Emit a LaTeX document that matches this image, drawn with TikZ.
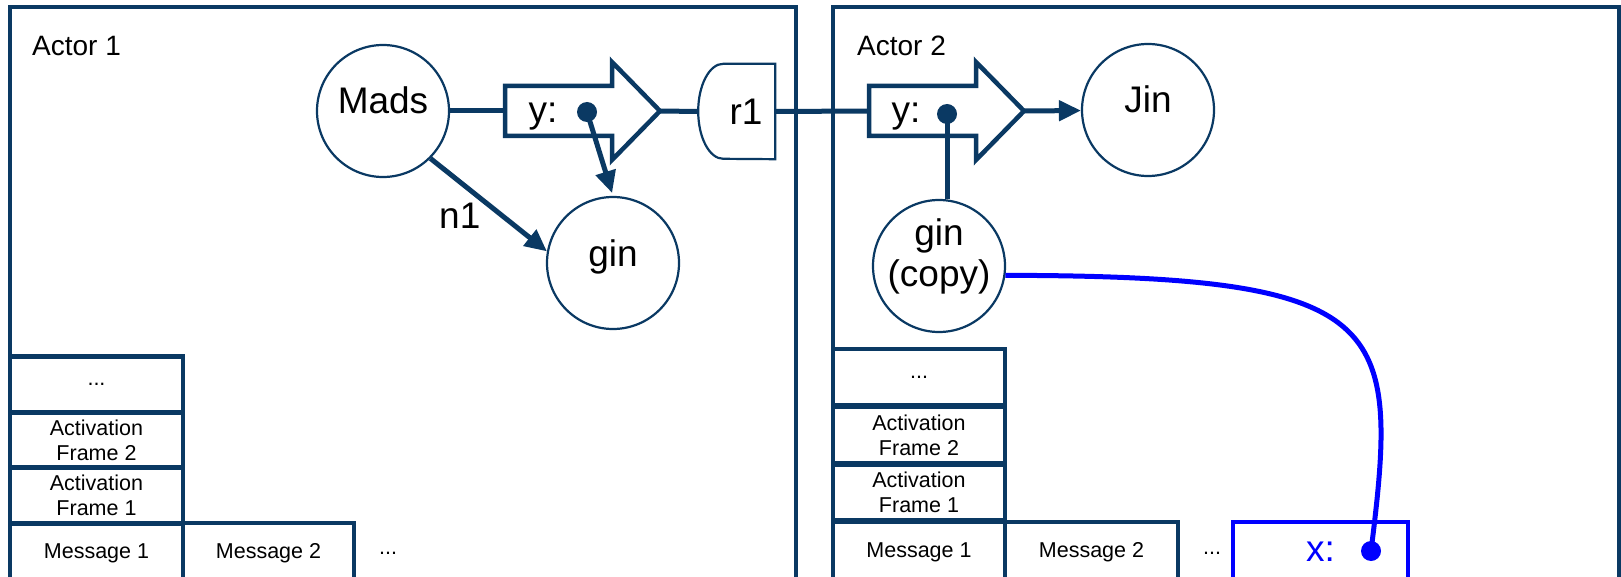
\documentclass[tikz,border=0pt]{standalone}
\usepackage{fontspec}
\setmainfont{Liberation Sans}
\usetikzlibrary{arrows.meta}
\definecolor{actorc}{RGB}{10,57,99}
\definecolor{copyc}{RGB}{0,0,255}

\begin{document}
\begin{tikzpicture}[x=1pt, y=-1pt,
    big/.style={font=\fontsize{37}{41}\selectfont},
    small/.style={font=\fontsize{21.5}{25}\selectfont},
    lbl/.style={big, text=black, inner sep=0pt, text height=26pt, text depth=20pt},
    obj/.style={lbl, circle, draw=actorc, line width=2.2pt, minimum size=132pt},
    actorbox/.style={draw=actorc, line width=4.5pt},
    msgbox/.style={draw=actorc, fill=white, line width=4.5pt},
    slot/.style={small, draw=actorc, line width=4.5pt, inner sep=0pt,
      minimum width=173pt, minimum height=56pt, align=center},
    ref/.style={actorc, line width=5pt},
    fwd/.style={ref, -{Triangle[length=22pt, width=20pt]}},
    ptr/.style={circle, fill=actorc, inner sep=0pt, minimum size=20pt}]
  \useasboundingbox (0,0) rectangle (1621,577);

  \draw[actorbox] (10,600) |- (796,7) -- (796,600);
  \draw[actorbox] (833,600) |- (1619,7) -- (1619,600);
  \node[anchor=base west, inner sep=0pt, font=\fontsize{28}{32}\selectfont] (act1) at (32,56) {Actor 1};
  \node[anchor=base west, inner sep=0pt, font=\fontsize{28}{32}\selectfont] (act2) at (857,56) {Actor 2};

  \node[obj] (mads) at (383,111) {Mads};
  \node[obj] (gin) at (613,263) {gin};
  \node[obj] (jin) at (1148,110) {Jin};
  \node[obj, label={[big, align=center, inner sep=0pt, yshift=10pt]center:gin\\(copy)}] (ginc) at (939,266) {};

  \draw[msgbox] (505,86) -- (612,86) -- (612,62) -- (660,111) -- (612,160) -- (612,136) -- (505,136) -- cycle;
  \coordinate (a1in) at (505,111);
  \coordinate (a1tip) at (660,111);
  \draw[msgbox] (869,86) -- (976,86) -- (976,62) -- (1024,111) -- (976,160) -- (976,136) -- (869,136) -- cycle;
  \coordinate (a2in) at (869,111);
  \coordinate (a2tip) at (1024,111);
  \node[lbl] (y1) at (543,120) {y:};
  \node[ptr] (p1) at (587,112) {};
  \node[lbl] (y2) at (906,120) {y:};
  \node[ptr] (p2) at (947,114) {};

  \node[minimum width=77pt, minimum height=95pt, inner sep=0pt] (r1) at (736.5,111.5) {};
  \draw[actorc, line width=2.2pt] (r1.north east) -- ++(-52,0)
    arc[start angle=90, end angle=270, x radius=25pt, y radius=47.5pt] -- (r1.south east) -- cycle;
  \node[lbl] (r1t) at (746,122) {r1};

  \draw[ref] (mads) -- (a1in);
  \draw[ref] (a1tip) -- (r1.west);
  \draw[ref] (r1.east) -- (a2in);
  \draw[fwd] (a2tip) -- (jin);
  \draw[fwd, shorten >=3pt] (p1.center) -- (gin.north);
  \draw[fwd] (mads.-45) -- node[lbl, pos=0.45, anchor=north east] {n1} (gin.170);
  \draw[ref] (p2.center) -- (p2 |- ginc.north);

  \node[slot] (a1dots) at (96.5,384.5) {...};
  \node[slot] (a1af2) at (96.5,440) {Activation\\Frame 2};
  \node[slot] (a1af1) at (96.5,495.5) {Activation\\Frame 1};
  \node[slot, minimum height=60pt] (a1m1) at (96.5,553) {Message 1};
  \node[slot, minimum width=171pt, minimum height=60pt] (a1m2) at (268.5,553) {Message 2};
  \node[small] (a1more) at (388,553) {...};

  \node[slot, minimum width=172pt] (a2dots) at (919,377) {...};
  \node[slot, minimum width=172pt] (a2af2) at (919,435) {Activation\\Frame 2};
  \node[slot, minimum width=172pt, minimum height=55pt] (a2af1) at (919,492.5) {Activation\\Frame 1};
  \node[slot, minimum width=172pt, minimum height=60pt] (a2m1) at (919,552) {Message 1};
  \node[slot, minimum height=60pt] (a2m2) at (1091.5,552) {Message 2};
  \node[small] (a2more) at (1212,553) {...};
  \node[slot, big, draw=copyc, text=copyc, minimum width=175pt, minimum height=60pt] (xslot) at (1320.5,552) {x:};
  \node[ptr, fill=copyc] (xp) at (1371,551) {};
  \draw[copyc, line width=5pt] (ginc.-8) .. controls (1390,276) and (1400,320) .. (xp.center);
\end{tikzpicture}
\end{document}
